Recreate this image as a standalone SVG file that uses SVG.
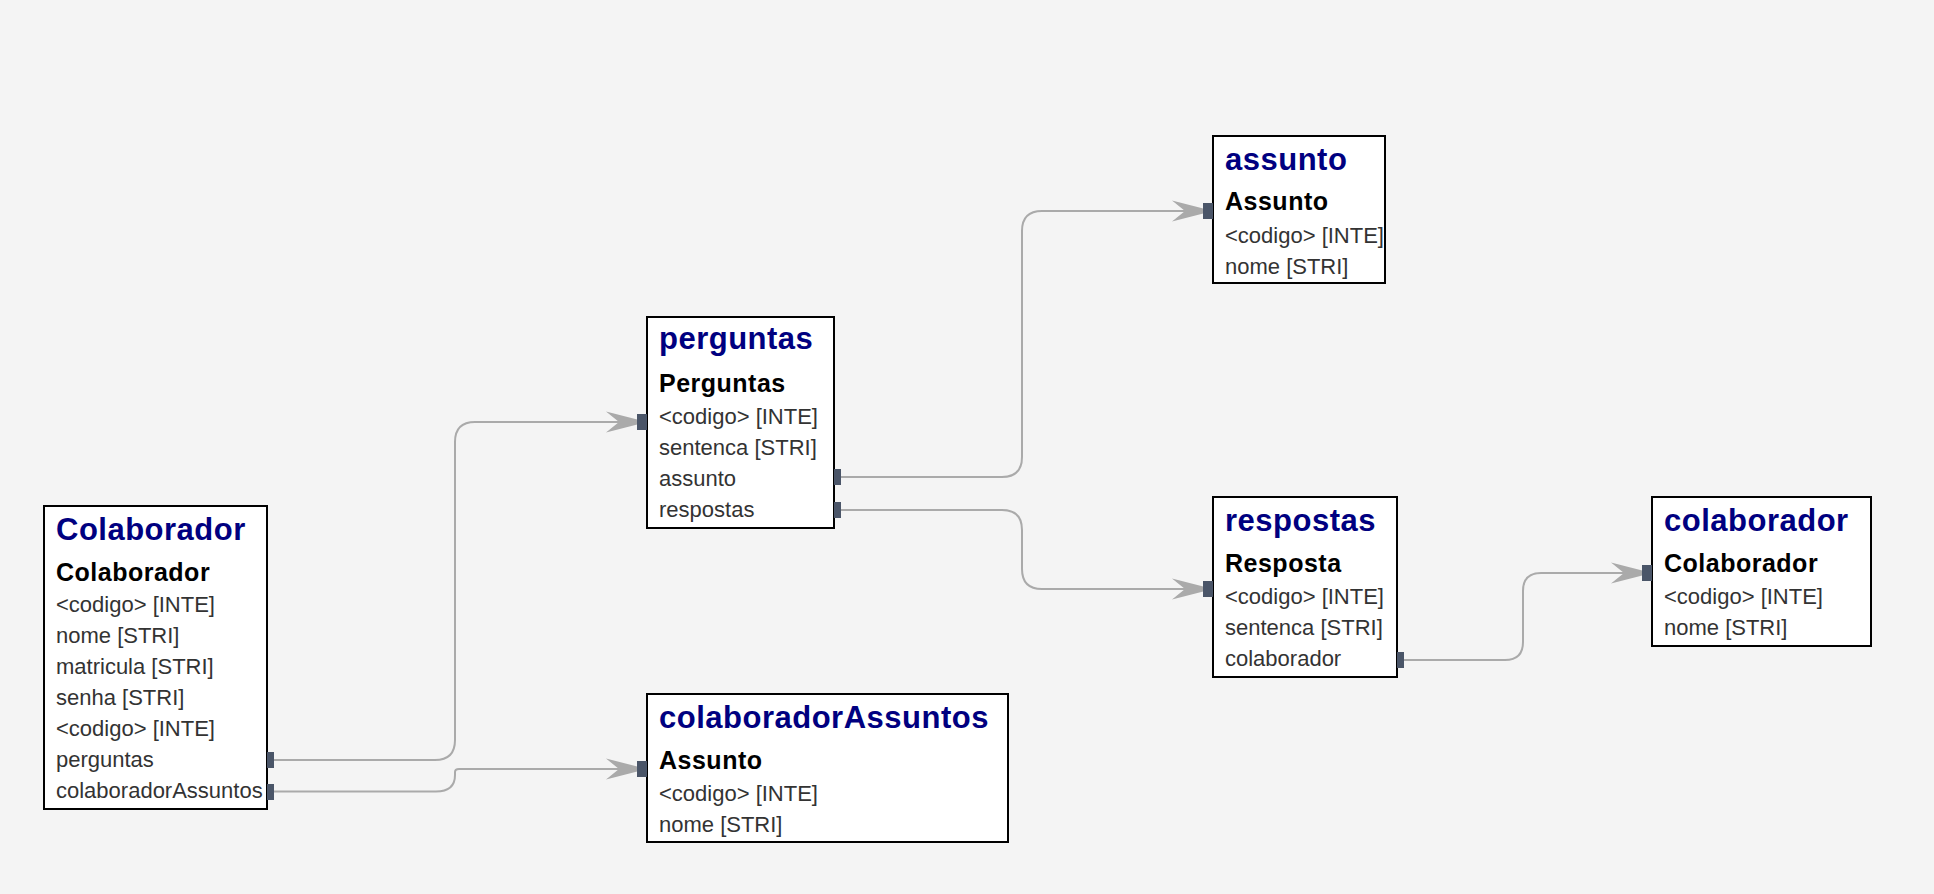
<svg xmlns="http://www.w3.org/2000/svg" width="1934" height="894" viewBox="0 0 1934 894">
<style>
.box{fill:#ffffff;stroke:#000000;stroke-width:2}
.title{font-family:"Liberation Sans",Arial,sans-serif;font-weight:bold;font-size:31px;fill:#000080;letter-spacing:0.5px}
.sub{font-family:"Liberation Sans",Arial,sans-serif;font-weight:bold;font-size:25px;fill:#000000;letter-spacing:0.5px}
.row{font-family:"Liberation Sans",Arial,sans-serif;font-size:22px;fill:#333333}
.port{fill:#4a5568}
.edge{fill:none;stroke:#aaaaaa;stroke-width:2}
</style>
<defs>
<marker id="arr" markerUnits="userSpaceOnUse" markerWidth="44" markerHeight="26" viewBox="-42 -13 44 26" refX="0" refY="0" orient="auto">
<path d="M0,0 L-41,-10.5 L-28,0 L-41,10.5 Z" fill="#aaaaaa"/>
</marker>
</defs>
<rect x="0" y="0" width="1934" height="894" fill="#f4f4f4"/>
<g id="connectors">
<path class="edge" marker-end="url(#arr)" d="M270,760 H435 Q455,760 455,740 V442 Q455,422 475,422 H647"/>
<path class="edge" marker-end="url(#arr)" d="M270,791.5 H436 Q455,791.5 455,775 V772 Q455,769 459,769 H647"/>
<path class="edge" marker-end="url(#arr)" d="M837,477 H1002 Q1022,477 1022,457 V231 Q1022,211 1042,211 H1213"/>
<path class="edge" marker-end="url(#arr)" d="M837,510 H1002 Q1022,510 1022,530 V569 Q1022,589 1042,589 H1213"/>
<path class="edge" marker-end="url(#arr)" d="M1400,660 H1505 Q1523,660 1523,642 V591 Q1523,573 1541,573 H1652"/>
</g>
<g id="node-Colaborador">
<rect class="box" x="44" y="506" width="223" height="303"/>
<text class="title" x="56" y="540">Colaborador</text>
<text class="sub" x="56" y="581">Colaborador</text>
<text class="row" x="56" y="612">&lt;codigo&gt; [INTE]</text>
<text class="row" x="56" y="643">nome [STRI]</text>
<text class="row" x="56" y="674">matricula [STRI]</text>
<text class="row" x="56" y="705">senha [STRI]</text>
<text class="row" x="56" y="736">&lt;codigo&gt; [INTE]</text>
<text class="row" x="56" y="767">perguntas</text>
<text class="row" x="56" y="798">colaboradorAssuntos</text>
<rect class="port" x="267" y="752" width="7" height="16"/>
<rect class="port" x="267" y="784" width="7" height="16"/>
</g>
<g id="node-perguntas">
<rect class="box" x="647" y="317" width="187" height="211"/>
<text class="title" x="659" y="349">perguntas</text>
<text class="sub" x="659" y="392">Perguntas</text>
<text class="row" x="659" y="424">&lt;codigo&gt; [INTE]</text>
<text class="row" x="659" y="455">sentenca [STRI]</text>
<text class="row" x="659" y="486">assunto</text>
<text class="row" x="659" y="517">respostas</text>
<rect class="port" x="637" y="414" width="10" height="16"/>
<rect class="port" x="834" y="469" width="7" height="16"/>
<rect class="port" x="834" y="502" width="7" height="16"/>
</g>
<g id="node-colaboradorAssuntos">
<rect class="box" x="647" y="694" width="361" height="148"/>
<text class="title" x="659" y="728">colaboradorAssuntos</text>
<text class="sub" x="659" y="769">Assunto</text>
<text class="row" x="659" y="801">&lt;codigo&gt; [INTE]</text>
<text class="row" x="659" y="832">nome [STRI]</text>
<rect class="port" x="637" y="761" width="10" height="16"/>
</g>
<g id="node-assunto">
<rect class="box" x="1213" y="136" width="172" height="147"/>
<text class="title" x="1225" y="170">assunto</text>
<text class="sub" x="1225" y="210">Assunto</text>
<text class="row" x="1225" y="243">&lt;codigo&gt; [INTE]</text>
<text class="row" x="1225" y="274">nome [STRI]</text>
<rect class="port" x="1203" y="203" width="10" height="16"/>
</g>
<g id="node-respostas">
<rect class="box" x="1213" y="497" width="184" height="180"/>
<text class="title" x="1225" y="531">respostas</text>
<text class="sub" x="1225" y="572">Resposta</text>
<text class="row" x="1225" y="604">&lt;codigo&gt; [INTE]</text>
<text class="row" x="1225" y="635">sentenca [STRI]</text>
<text class="row" x="1225" y="666">colaborador</text>
<rect class="port" x="1203" y="581" width="10" height="16"/>
<rect class="port" x="1397" y="652" width="7" height="16"/>
</g>
<g id="node-colaborador">
<rect class="box" x="1652" y="497" width="219" height="149"/>
<text class="title" x="1664" y="531">colaborador</text>
<text class="sub" x="1664" y="572">Colaborador</text>
<text class="row" x="1664" y="604">&lt;codigo&gt; [INTE]</text>
<text class="row" x="1664" y="635">nome [STRI]</text>
<rect class="port" x="1642" y="565" width="10" height="16"/>
</g>
</svg>
